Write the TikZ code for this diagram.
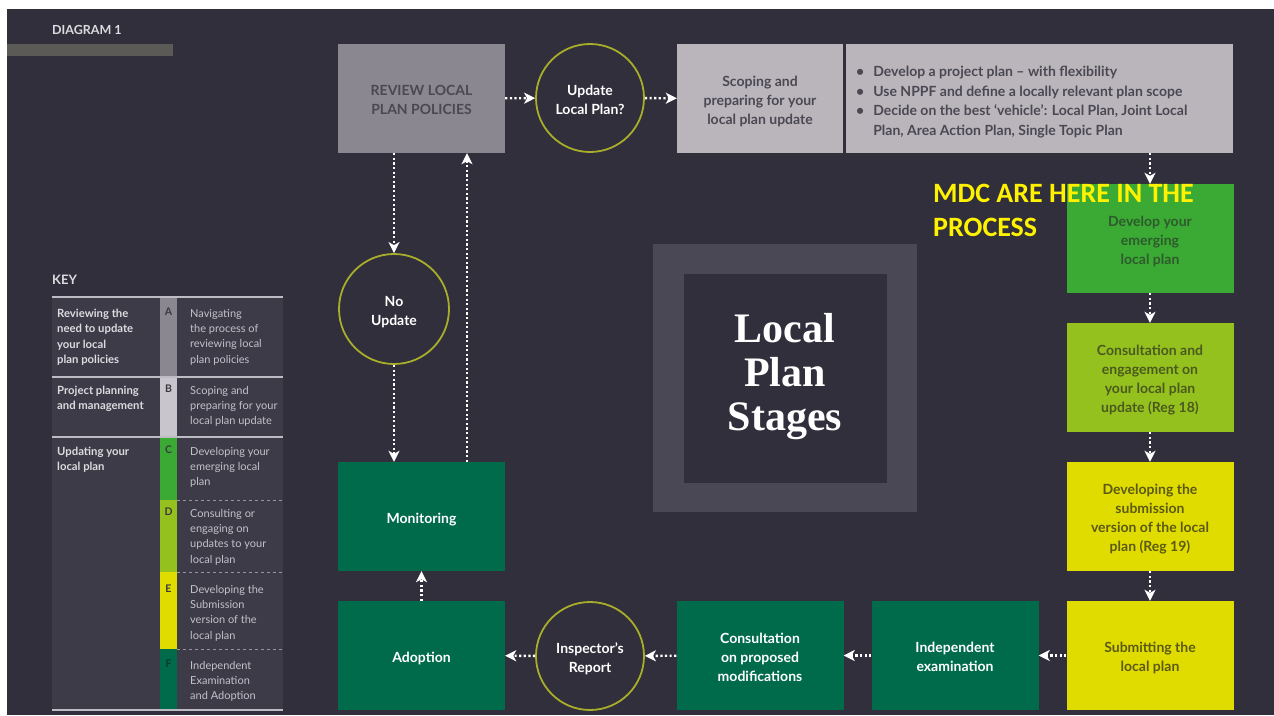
\documentclass[tikz,border=0pt]{standalone}
\usepackage{fontspec}
\setmainfont{Lato}
\newfontfamily\mdcfont{Carlito}
\newfontfamily\stagefont{Liberation Serif}
\usetikzlibrary{arrows.meta}
\definecolor{bgdark}{HTML}{302F3B}
\definecolor{keybg}{HTML}{3C3B47}
\definecolor{keyline}{HTML}{BDBCC4}
\definecolor{keybold}{HTML}{DCDBE0}
\definecolor{keylight}{HTML}{C3C2CA}
\definecolor{ringyellow}{HTML}{A9AE2A}
\definecolor{stagegrey}{HTML}{8A8790}
\definecolor{stagelight}{HTML}{B9B5BB}
\definecolor{stripb}{HTML}{C9C5CC}
\definecolor{stagegreen}{HTML}{3AAA35}
\definecolor{stagelime}{HTML}{95C11F}
\definecolor{stageyellow}{HTML}{E0DC00}
\definecolor{stagedark}{HTML}{006B4B}
\definecolor{greytext}{HTML}{4A4852}
\definecolor{greentext}{HTML}{2F5A2C}
\definecolor{limetext}{HTML}{4A5A1E}
\definecolor{yellowtext}{HTML}{5C5A12}
\definecolor{lettertext}{HTML}{3A3940}
\definecolor{framegrey}{HTML}{4A4855}
\definecolor{barstrip}{HTML}{5B5A57}
\newcommand\stagetext[1]{\raisebox{-3pt}[\height][\depth]{\begin{tabular}{@{}c@{}}#1\end{tabular}}}
\begin{document}
\begin{tikzpicture}[x=1pt,y=-1pt,
  stage/.style={minimum width=167pt,minimum height=109pt,inner sep=0pt,font=\bfseries\fontsize{14}{19}\selectfont},
  query/.style={circle,draw=ringyellow,line width=1.8pt,minimum size=108pt,inner sep=0pt,text=white,font=\bfseries\fontsize{14}{19}\selectfont},
  flow/.style={draw=white,line width=2.4pt,dash pattern=on 2.2pt off 2.4pt,-{Stealth[length=11pt,width=11pt,inset=3pt]}},
  keyhead/.style={anchor=north west,inner sep=0pt,align=left,text=keybold,font=\bfseries\fontsize{11.3}{15.3}\selectfont},
  keytext/.style={anchor=north west,inner sep=0pt,align=left,text=keylight,font=\fontsize{11}{15.3}\selectfont},
  keyletter/.style={anchor=north,inner sep=0pt,font=\bfseries\fontsize{10.5}{12}\selectfont}]
\fill[white] (0,0) rectangle (1274,715);
\fill[bgdark] (7,9) rectangle (1274,715);
\useasboundingbox (0,0) rectangle (1274,715);
\node[anchor=west,inner sep=0pt,text=keybold,font=\bfseries\fontsize{12.5}{14}\selectfont] (title) at (52,30) {DIAGRAM 1};
\fill[barstrip] (7,44) rectangle (173,56);
\node[anchor=west,inner sep=0pt,text=keybold,font=\bfseries\fontsize{13}{15}\selectfont] (keytitle) at (52,280) {KEY};
\fill[keybg] (52,297) rectangle (283,710);
\fill[stagegrey] (160,297) rectangle (177,377);
\fill[stripb] (160,377) rectangle (177,437);
\fill[stagegreen] (160,437) rectangle (177,500);
\fill[stagelime] (160,500) rectangle (177,572);
\fill[stageyellow] (160,572) rectangle (177,649);
\fill[stagedark] (160,649) rectangle (177,710);
\draw[keyline,line width=1.5pt] (52,297) -- (283,297);
\draw[keyline,line width=1.5pt] (52,377) -- (283,377);
\draw[keyline,line width=1.5pt] (52,437) -- (283,437);
\draw[keyline,line width=1.5pt] (52,710) -- (283,710);
\draw[keyline!70!keybg,dashed,line width=0.8pt] (177,500) -- (283,500);
\draw[keyline!70!keybg,dashed,line width=0.8pt] (177,572) -- (283,572);
\draw[keyline!70!keybg,dashed,line width=0.8pt] (177,649) -- (283,649);
\node[keyhead] (keya) at (57,309) {Reviewing the\\need to update\\your local\\plan policies};
\node[keyhead] (keyb) at (57,386) {Project planning\\and management};
\node[keyhead] (keyc) at (57,447) {Updating your\\local plan};
\node[keyletter,text=lettertext] (leta) at (168.5,308) {A};
\node[keyletter,text=lettertext] (letb) at (168.5,385) {B};
\node[keyletter,text=lettertext] (letc) at (168.5,446) {C};
\node[keyletter,text=lettertext] (letd) at (168.5,508) {D};
\node[keyletter,text=lettertext] (lete) at (168.5,585) {E};
\node[keyletter,text=stagedark!55!black] (letf) at (168.5,660) {F};
\node[keytext] (desca) at (190,309) {Navigating\\the process of\\reviewing local\\plan policies};
\node[keytext] (descb) at (190,386) {Scoping and\\preparing for your\\local plan update};
\node[keytext] (descc) at (190,447) {Developing your\\emerging local\\plan};
\node[keytext] (descd) at (190,509) {Consulting or\\engaging on\\updates to your\\local plan};
\node[keytext] (desce) at (190,585) {Developing the\\Submission\\version of the\\local plan};
\node[keytext] (descf) at (190,661) {Independent\\Examination\\and Adoption};
\fill[framegrey] (653,244) rectangle (917,512);
\fill[bgdark] (684,274) rectangle (887,483);
\node[align=center,text=white,font=\stagefont\bfseries\fontsize{42}{44}\selectfont] (stages) at (785,377) {Local\\Plan\\Stages};
\node[stage,fill=stagegrey,text=greytext] (stg0) at (421.5,98.5) {\stagetext{REVIEW LOCAL\\PLAN POLICIES}};
\node[query] (stg1) at (590,98) {\stagetext{Update\\Local Plan?}};
\node[stage,fill=stagelight,text=greytext,minimum width=166pt] (stg2) at (760,98.5) {\stagetext{Scoping and\\preparing for your\\local plan update}};
\node[fill=stagelight,minimum width=387pt,minimum height=109pt,inner sep=0pt] (stg3) at (1039.5,98.5) {};
\node[anchor=west,inner sep=0pt,text=greytext,font=\bfseries\fontsize{14}{19.6}\selectfont] (bullets) at (856,102) {\begin{tabular}{@{}l@{\hspace{9pt}}l@{}}\textbullet & Develop a project plan -- with flexibility\\ \textbullet & Use NPPF and define a locally relevant plan scope\\ \textbullet & Decide on the best ‘vehicle’: Local Plan, Joint Local\\ & Plan, Area Action Plan, Single Topic Plan\end{tabular}};
\node[stage,fill=stagegreen,text=greentext] (stg4) at (1150,238.5) {\stagetext{Develop your\\emerging\\local plan}};
\node[stage,fill=stagelime,text=limetext] (stg5) at (1150,377.5) {\stagetext{Consultation and\\engagement on\\your local plan\\update (Reg 18)}};
\node[stage,fill=stageyellow,text=yellowtext] (stg6) at (1150,516.5) {\stagetext{Developing the\\submission\\version of the local\\plan (Reg 19)}};
\node[stage,fill=stageyellow,text=yellowtext] (stg7) at (1150,655.5) {\stagetext{Submitting the\\local plan}};
\node[stage,fill=stagedark,text=white] (stg8) at (955,655.5) {\stagetext{Independent\\examination}};
\node[stage,fill=stagedark,text=white] (stg9) at (760,655.5) {\stagetext{Consultation\\on proposed\\modifications}};
\node[query] (stg10) at (590,656) {\stagetext{Inspector's\\Report}};
\node[stage,fill=stagedark,text=white] (stg11) at (421.5,655.5) {\stagetext{Adoption}};
\node[stage,fill=stagedark,text=white] (stg12) at (421.5,516.5) {\stagetext{Monitoring}};
\node[query,minimum size=110pt] (stg13) at (394,309) {\stagetext{No\\Update}};
\draw[flow] (stg0) -- (stg1);
\draw[flow] (stg1) -- (stg2);
\draw[flow] (stg3.south -| stg4) -- (stg4);
\draw[flow] (stg4) -- (stg5);
\draw[flow] (stg5) -- (stg6);
\draw[flow] (stg6) -- (stg7);
\draw[flow] (stg7) -- (stg8);
\draw[flow] (stg8) -- (stg9);
\draw[flow] (stg9) -- (stg10);
\draw[flow] (stg10) -- (stg11);
\draw[flow] (stg11) -- (stg12);
\draw[flow] (stg0.south -| stg13) -- (stg13);
\draw[flow] (stg13) -- (stg13 |- stg12.north);
\draw[flow] ([xshift=45.5pt]stg12.north) -- ([xshift=45.5pt]stg0.south);
\node[anchor=north west,inner sep=0pt,align=left,text=yellow,font=\mdcfont\bfseries\fontsize{28}{34}\selectfont] (mdc) at (933,184) {MDC ARE HERE IN THE\\PROCESS};
\end{tikzpicture}
\end{document}
